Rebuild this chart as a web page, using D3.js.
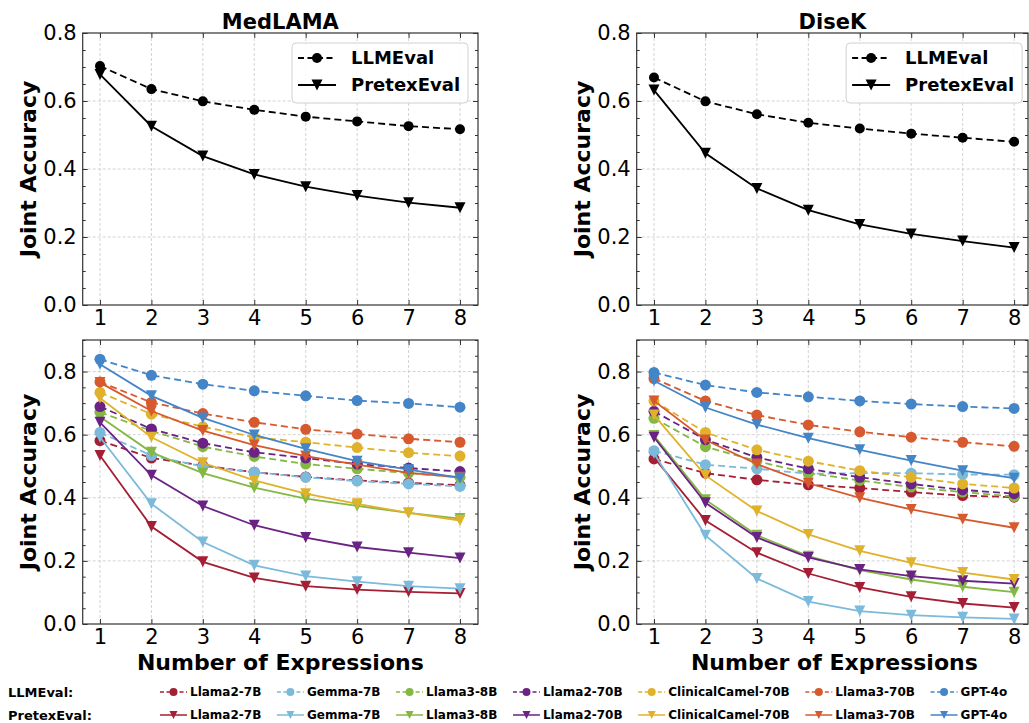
<!DOCTYPE html>
<html>
<head>
<meta charset="utf-8">
<script src="https://cdn.jsdelivr.net/npm/d3@7"></script>
<style>
  body { margin: 0; background: #fff; }
  svg { font-family: "DejaVu Sans", sans-serif; }
</style>
</head>
<body>
<div id="chart"></div>
<script>
// number of expressions on the x axis
const expressions = [1, 2, 3, 4, 5, 6, 7, 8];
const models = ['Llama2-7B', 'Gemma-7B', 'Llama3-8B', 'Llama2-70B', 'ClinicalCamel-70B', 'Llama3-70B', 'GPT-4o'];
const modelColors = ['#a41f35', '#7bbadb', '#84b843', '#6a2384', '#e0b22b', '#d7592e', '#4485c8'];
const topTicks = [0.0, 0.2, 0.4, 0.6, 0.8];
const bottomTicks = [0.0, 0.2, 0.4, 0.6, 0.8];

// averaged over models (top row)
const medlamaAvgLLMEval = [0.703, 0.635, 0.599, 0.574, 0.554, 0.540, 0.526, 0.517];
const medlamaAvgPretexEval = [0.678, 0.526, 0.438, 0.384, 0.348, 0.322, 0.301, 0.286];
const disekAvgLLMEval = [0.669, 0.599, 0.561, 0.536, 0.519, 0.504, 0.492, 0.480];
const disekAvgPretexEval = [0.632, 0.446, 0.343, 0.279, 0.237, 0.209, 0.188, 0.169];

// per model (bottom row), same order as models
const medlamaLLMEval = [
  [0.581, 0.526, 0.502, 0.481, 0.466, 0.455, 0.447, 0.440],
  [0.607, 0.534, 0.499, 0.481, 0.465, 0.453, 0.444, 0.436],
  [0.671, 0.612, 0.562, 0.531, 0.507, 0.492, 0.478, 0.465],
  [0.689, 0.618, 0.573, 0.544, 0.526, 0.507, 0.494, 0.483],
  [0.734, 0.665, 0.625, 0.592, 0.576, 0.559, 0.543, 0.532],
  [0.767, 0.702, 0.667, 0.639, 0.617, 0.602, 0.587, 0.576],
  [0.839, 0.788, 0.760, 0.739, 0.723, 0.708, 0.699, 0.687]
];
const medlamaPretexEval = [
  [0.534, 0.309, 0.197, 0.146, 0.120, 0.109, 0.102, 0.097],
  [0.592, 0.381, 0.260, 0.186, 0.152, 0.134, 0.120, 0.112],
  [0.657, 0.544, 0.478, 0.432, 0.397, 0.374, 0.352, 0.334],
  [0.639, 0.471, 0.374, 0.313, 0.274, 0.244, 0.226, 0.209],
  [0.716, 0.592, 0.511, 0.455, 0.413, 0.381, 0.352, 0.328],
  [0.765, 0.675, 0.613, 0.567, 0.532, 0.505, 0.479, 0.465],
  [0.823, 0.723, 0.653, 0.599, 0.555, 0.516, 0.489, 0.463]
];
const disekLLMEval = [
  [0.523, 0.478, 0.457, 0.441, 0.431, 0.418, 0.407, 0.402],
  [0.549, 0.505, 0.492, 0.476, 0.478, 0.478, 0.474, 0.473],
  [0.652, 0.562, 0.516, 0.478, 0.455, 0.434, 0.418, 0.404],
  [0.674, 0.584, 0.528, 0.492, 0.465, 0.444, 0.425, 0.413],
  [0.707, 0.607, 0.552, 0.516, 0.486, 0.465, 0.444, 0.431],
  [0.778, 0.707, 0.662, 0.631, 0.609, 0.592, 0.576, 0.563],
  [0.797, 0.757, 0.734, 0.720, 0.707, 0.697, 0.689, 0.683]
];
const disekPretexEval = [
  [0.528, 0.328, 0.226, 0.160, 0.116, 0.086, 0.065, 0.052],
  [0.541, 0.281, 0.144, 0.071, 0.041, 0.028, 0.021, 0.016],
  [0.597, 0.394, 0.281, 0.215, 0.171, 0.141, 0.118, 0.101],
  [0.592, 0.384, 0.274, 0.211, 0.173, 0.152, 0.137, 0.128],
  [0.662, 0.471, 0.358, 0.284, 0.232, 0.194, 0.163, 0.141],
  [0.707, 0.583, 0.507, 0.446, 0.400, 0.363, 0.332, 0.305],
  [0.771, 0.686, 0.632, 0.589, 0.552, 0.518, 0.486, 0.462]
];

const W = 1029, H = 723;
const svg = d3.select('#chart').append('svg')
  .attr('width', W)
  .attr('height', H);

const cols = [
  { title: 'MedLAMA', x0: 82.7, x1: 478, dom: [0.664, 8.35], ylab: 28 },
  { title: 'DiseK', x0: 636.7, x1: 1028, dom: [0.664, 8.27], ylab: 582 }
];
const rows = [
  { y0: 33, y1: 305, dom: [0, 0.8], ticks: topTicks },
  { y0: 340, y1: 624, dom: [0, 0.9], ticks: bottomTicks }
];

function triangleDown(s) {
  return 'M0,' + s + 'L' + (-s) + ',' + (-s) + 'L' + s + ',' + (-s) + 'Z';
}

function drawPanel(col, row) {
  const x = d3.scaleLinear().domain(col.dom).range([col.x0, col.x1]);
  const y = d3.scaleLinear().domain(row.dom).range([row.y1, row.y0]);
  const g = svg.append('g');

  // grid
  g.selectAll('.gx').data(expressions).enter().append('line')
    .attr('x1', d => x(d)).attr('x2', d => x(d))
    .attr('y1', row.y0).attr('y2', row.y1)
    .attr('stroke', '#c8c8c8').attr('stroke-width', 0.8).attr('stroke-dasharray', '3,2');
  g.selectAll('.gy').data(row.ticks.filter(t => t > 0 && t < row.dom[1])).enter().append('line')
    .attr('x1', col.x0).attr('x2', col.x1)
    .attr('y1', d => y(d)).attr('y2', d => y(d))
    .attr('stroke', '#c8c8c8').attr('stroke-width', 0.8).attr('stroke-dasharray', '3,2');

  const minor = d3.range(0, row.dom[1] + 0.001, 0.05).filter(v => Math.abs(v * 5 - Math.round(v * 5)) > 0.01);

  // axes, ticks pointing in
  g.append('g').attr('transform', 'translate(' + col.x0 + ',0)')
    .call(d3.axisLeft(y).tickValues(row.ticks).tickFormat(d3.format('.1f'))
      .tickSizeInner(-5).tickSizeOuter(0).tickPadding(6));
  g.append('g').attr('transform', 'translate(' + col.x0 + ',0)')
    .call(d3.axisLeft(y).tickValues(minor).tickFormat('').tickSizeInner(-3).tickSizeOuter(0));
  g.append('g').attr('transform', 'translate(' + col.x1 + ',0)')
    .call(d3.axisRight(y).tickValues(row.ticks).tickFormat('').tickSizeInner(-5).tickSizeOuter(0));
  g.append('g').attr('transform', 'translate(' + col.x1 + ',0)')
    .call(d3.axisRight(y).tickValues(minor).tickFormat('').tickSizeInner(-3).tickSizeOuter(0));
  g.append('g').attr('transform', 'translate(0,' + row.y1 + ')')
    .call(d3.axisBottom(x).tickValues(expressions).tickFormat(d3.format('d'))
      .tickSizeInner(-5).tickSizeOuter(0).tickPadding(5));
  g.append('g').attr('transform', 'translate(0,' + row.y0 + ')')
    .call(d3.axisTop(x).tickValues(expressions).tickFormat('').tickSizeInner(-5).tickSizeOuter(0));

  g.selectAll('.domain').remove();
  g.selectAll('.tick line').attr('stroke', '#333').attr('stroke-width', 1);
  g.selectAll('.tick text').attr('font-size', 21).attr('fill', '#000')
    .attr('font-family', '"DejaVu Sans", sans-serif');

  g.append('rect')
    .attr('x', col.x0).attr('y', row.y0)
    .attr('width', col.x1 - col.x0).attr('height', row.y1 - row.y0)
    .attr('fill', 'none').attr('stroke', '#333').attr('stroke-width', 1.2);

  g.append('text')
    .attr('transform', 'translate(' + col.ylab + ',' + ((row.y0 + row.y1) / 2) + ') rotate(-90)')
    .attr('text-anchor', 'middle').attr('dy', '0.35em')
    .attr('font-size', 22).attr('font-weight', 'bold')
    .text('Joint Accuracy');

  return { x: x, y: y, g: g };
}

function drawSeries(p, values, color, dashed, marker, r, lw) {
  const line = d3.line()
    .x((d, i) => p.x(expressions[i]))
    .y(d => p.y(d));
  p.g.append('path')
    .datum(values)
    .attr('fill', 'none')
    .attr('stroke', color)
    .attr('stroke-width', lw)
    .attr('stroke-dasharray', dashed ? '7,4' : null)
    .attr('d', line);
  if (marker === 'circle') {
    p.g.selectAll(null).data(values).enter().append('circle')
      .attr('cx', (d, i) => p.x(expressions[i]))
      .attr('cy', d => p.y(d))
      .attr('r', r)
      .attr('fill', color);
  } else {
    p.g.selectAll(null).data(values).enter().append('path')
      .attr('transform', (d, i) => 'translate(' + p.x(expressions[i]) + ',' + p.y(d) + ')')
      .attr('d', triangleDown(r))
      .attr('fill', color);
  }
}

const topData = [[medlamaAvgLLMEval, medlamaAvgPretexEval], [disekAvgLLMEval, disekAvgPretexEval]];
const bottomData = [[medlamaLLMEval, medlamaPretexEval], [disekLLMEval, disekPretexEval]];

cols.forEach((col, ci) => {
  // top row: averages
  const pt = drawPanel(col, rows[0]);
  drawSeries(pt, topData[ci][0], '#000', true, 'circle', 5, 1.8);
  drawSeries(pt, topData[ci][1], '#000', false, 'tri', 5.5, 1.8);

  svg.append('text')
    .attr('x', (col.x0 + col.x1) / 2).attr('y', 22)
    .attr('text-anchor', 'middle').attr('dy', '0.35em')
    .attr('font-size', 21).attr('font-weight', 'bold')
    .text(col.title);

  // legend box in top panels
  const lx = pt.x(8.35) - 186, ly = 43;
  const lg = svg.append('g').attr('transform', 'translate(' + lx + ',' + ly + ')');
  lg.append('rect').attr('width', 176).attr('height', 60).attr('rx', 4)
    .attr('fill', '#fff').attr('fill-opacity', 0.85).attr('stroke', '#d0d0d0');
  [['LLMEval', true, 'circle'], ['PretexEval', false, 'tri']].forEach((e, i) => {
    const yy = 15 + i * 27;
    lg.append('line').attr('x1', 6).attr('x2', 44).attr('y1', yy).attr('y2', yy)
      .attr('stroke', '#000').attr('stroke-width', 1.8).attr('stroke-dasharray', e[1] ? '6,3.5' : null);
    if (e[2] === 'circle') lg.append('circle').attr('cx', 25).attr('cy', yy).attr('r', 5);
    else lg.append('path').attr('transform', 'translate(25,' + yy + ')').attr('d', triangleDown(5.5));
    lg.append('text').attr('x', 59).attr('y', yy).attr('dy', '0.35em')
      .attr('font-size', 18).attr('font-weight', 'bold').text(e[0]);
  });

  // bottom row: per model
  const pb = drawPanel(col, rows[1]);
  models.forEach((m, mi) => {
    drawSeries(pb, bottomData[ci][0][mi], modelColors[mi], true, 'circle', 5.5, 1.8);
    drawSeries(pb, bottomData[ci][1][mi], modelColors[mi], false, 'tri', 5.5, 1.8);
  });

  svg.append('text')
    .attr('x', (col.x0 + col.x1) / 2 + (ci ? 2 : 0)).attr('y', 662)
    .attr('text-anchor', 'middle').attr('dy', '0.35em')
    .attr('font-size', 22).attr('font-weight', 'bold')
    .text('Number of Expressions');
});

// bottom legend
const legendRows = [['LLMEval:', true, 'circle', 692], ['PretexEval:', false, 'tri', 715]];
legendRows.forEach(r => {
  svg.append('text').attr('x', 8).attr('y', r[3]).attr('dy', '0.35em')
    .attr('font-size', 13).attr('font-weight', 'bold').text(r[0]);
});
let lxPos = 160;
models.forEach((m, mi) => {
  let w = 0;
  legendRows.forEach(r => {
    const gg = svg.append('g').attr('transform', 'translate(' + lxPos + ',' + r[3] + ')');
    gg.append('line').attr('x1', 0).attr('x2', 27)
      .attr('stroke', modelColors[mi]).attr('stroke-width', 1.5)
      .attr('stroke-dasharray', r[1] ? '4,2.5' : null);
    if (r[2] === 'circle') gg.append('circle').attr('cx', 13.5).attr('r', 4).attr('fill', modelColors[mi]);
    else gg.append('path').attr('transform', 'translate(13.5,0)').attr('d', triangleDown(4)).attr('fill', modelColors[mi]);
    const t = gg.append('text').attr('x', 30).attr('dy', '0.35em')
      .attr('font-size', 12).attr('font-weight', 'bold').text(m);
    w = Math.max(w, t.node().getComputedTextLength());
  });
  lxPos += 30 + w + 15.6;
});
</script>
</body>
</html>
